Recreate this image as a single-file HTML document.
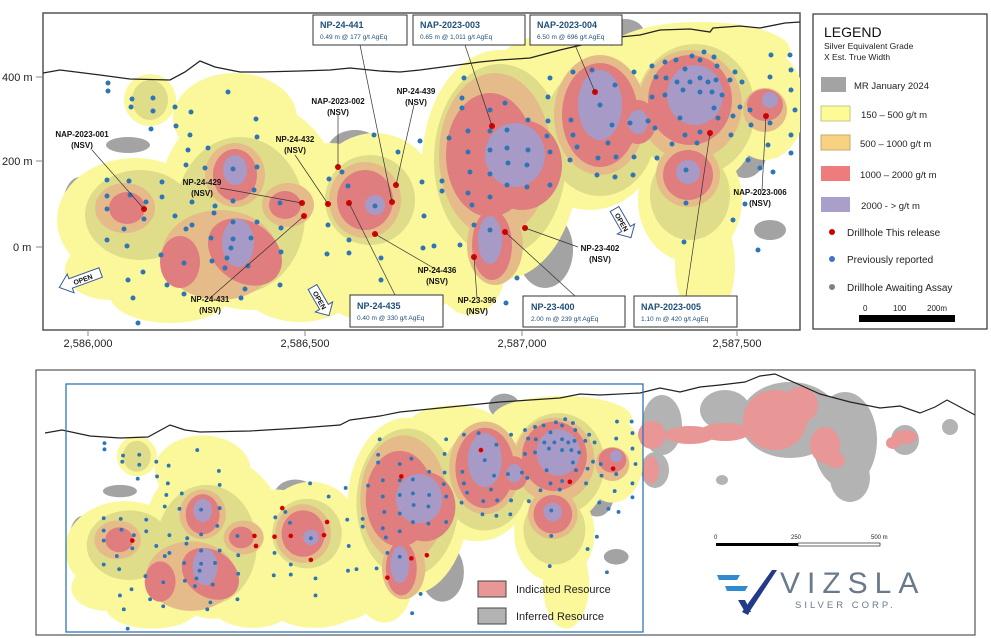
<!DOCTYPE html>
<html><head><meta charset="utf-8"><style>
html,body{margin:0;padding:0;background:#fff;}
svg{display:block;font-family:"Liberation Sans",sans-serif;}
.lb{font-size:8px;font-weight:bold;fill:#111;text-anchor:middle;}
.bt{font-size:9px;fill:#1f4e79;font-weight:bold;}
.bs{font-size:6.5px;fill:#1f4e79;}
.ax{font-size:11px;fill:#222;}
</style></head><body>
<svg width="991" height="638" viewBox="0 0 991 638" xmlns="http://www.w3.org/2000/svg">
<defs>
<g id="blobs">
 <g fill="#a3a3a3">
  <ellipse cx="80" cy="205" rx="17" ry="28"/><ellipse cx="312" cy="215" rx="24" ry="15"/>
  <ellipse cx="355" cy="152" rx="28" ry="22"/><ellipse cx="462" cy="105" rx="22" ry="28"/>
  <ellipse cx="545" cy="250" rx="28" ry="38"/><ellipse cx="625" cy="35" rx="20" ry="16"/>
  <ellipse cx="745" cy="150" rx="22" ry="28"/><ellipse cx="770" cy="230" rx="16" ry="10"/>
  <ellipse cx="430" cy="258" rx="14" ry="13"/><ellipse cx="128" cy="145" rx="22" ry="8"/>
  <ellipse cx="330" cy="240" rx="14" ry="10"/>
 </g>
 <g fill="#fbf89b">
  <ellipse cx="135" cy="220" rx="78" ry="62"/><ellipse cx="250" cy="205" rx="92" ry="105"/>
  <ellipse cx="235" cy="118" rx="62" ry="45"/><ellipse cx="330" cy="225" rx="72" ry="82"/>
  <ellipse cx="375" cy="195" rx="62" ry="62"/><ellipse cx="300" cy="280" rx="62" ry="42"/>
  <ellipse cx="420" cy="250" rx="52" ry="62"/><ellipse cx="500" cy="165" rx="78" ry="115"/>
  <ellipse cx="590" cy="128" rx="72" ry="82"/><ellipse cx="690" cy="108" rx="72" ry="82"/>
  <ellipse cx="690" cy="200" rx="52" ry="62"/><ellipse cx="765" cy="105" rx="40" ry="55"/>
  <ellipse cx="705" cy="265" rx="30" ry="58"/><ellipse cx="150" cy="100" rx="26" ry="26"/>
  <ellipse cx="110" cy="270" rx="45" ry="30"/><ellipse cx="380" cy="290" rx="60" ry="32"/>
  <ellipse cx="170" cy="295" rx="60" ry="28"/><ellipse cx="700" cy="50" rx="90" ry="28"/>
  <ellipse cx="560" cy="62" rx="60" ry="28"/><ellipse cx="470" cy="270" rx="35" ry="45"/>
 </g>
 <g fill="#dfdc8a">
  <ellipse cx="140" cy="215" rx="55" ry="45"/><ellipse cx="240" cy="215" rx="65" ry="78"/>
  <ellipse cx="370" cy="200" rx="45" ry="45"/><ellipse cx="500" cy="160" rx="66" ry="96"/>
  <ellipse cx="600" cy="130" rx="56" ry="66"/><ellipse cx="695" cy="110" rx="60" ry="66"/>
  <ellipse cx="690" cy="195" rx="40" ry="45"/><ellipse cx="150" cy="100" rx="18" ry="20"/>
 </g>
 <g fill="#e6bb8a">
  <ellipse cx="125" cy="208" rx="30" ry="25"/><ellipse cx="235" cy="175" rx="30" ry="32"/>
  <ellipse cx="220" cy="255" rx="58" ry="45"/><ellipse cx="288" cy="205" rx="26" ry="22"/>
  <ellipse cx="365" cy="200" rx="36" ry="38"/><ellipse cx="495" cy="155" rx="56" ry="82"/>
  <ellipse cx="495" cy="245" rx="28" ry="40"/><ellipse cx="600" cy="115" rx="46" ry="60"/>
  <ellipse cx="690" cy="105" rx="52" ry="55"/><ellipse cx="688" cy="175" rx="32" ry="32"/>
  <ellipse cx="765" cy="110" rx="22" ry="22"/>
 </g>
 <g fill="#e07d7f">
  <ellipse cx="127" cy="208" rx="18" ry="16"/><ellipse cx="235" cy="175" rx="22" ry="26"/>
  <ellipse cx="245" cy="252" rx="40" ry="30" transform="rotate(35 245 252)"/><ellipse cx="180" cy="262" rx="20" ry="26"/>
  <ellipse cx="285" cy="205" rx="16" ry="14"/><ellipse cx="365" cy="200" rx="28" ry="30"/>
  <ellipse cx="490" cy="155" rx="44" ry="62"/><ellipse cx="522" cy="165" rx="40" ry="45"/>
  <ellipse cx="492" cy="245" rx="20" ry="35"/><ellipse cx="600" cy="115" rx="38" ry="52"/>
  <ellipse cx="638" cy="122" rx="18" ry="22"/><ellipse cx="690" cy="100" rx="42" ry="45"/>
  <ellipse cx="688" cy="175" rx="25" ry="25"/><ellipse cx="765" cy="105" rx="18" ry="16"/>
 </g>
 <g fill="#a79ac6">
  <ellipse cx="235" cy="170" rx="12" ry="15"/><ellipse cx="238" cy="243" rx="16" ry="24"/>
  <ellipse cx="375" cy="205" rx="10" ry="10"/><ellipse cx="515" cy="155" rx="30" ry="32"/>
  <ellipse cx="600" cy="105" rx="22" ry="35"/><ellipse cx="695" cy="95" rx="28" ry="30"/>
  <ellipse cx="688" cy="172" rx="12" ry="12"/><ellipse cx="770" cy="100" rx="8" ry="8"/>
  <ellipse cx="490" cy="240" rx="12" ry="24"/><ellipse cx="638" cy="122" rx="10" ry="12"/>
 </g>
 <g fill="#2e75b6">
  <circle cx="108" cy="83" r="2.5"/><circle cx="108" cy="91" r="2.5"/><circle cx="132" cy="99" r="2.5"/><circle cx="131" cy="107" r="2.5"/><circle cx="153" cy="98" r="2.5"/><circle cx="153" cy="111" r="2.5"/><circle cx="175" cy="107" r="2.5"/><circle cx="191" cy="112" r="2.5"/><circle cx="151" cy="129" r="2.5"/><circle cx="176" cy="126" r="2.5"/><circle cx="228" cy="92" r="2.5"/><circle cx="190" cy="135" r="2.5"/><circle cx="188" cy="150" r="2.5"/><circle cx="208" cy="148" r="2.5"/><circle cx="186" cy="165" r="2.5"/><circle cx="205" cy="168" r="2.5"/><circle cx="233" cy="169" r="2.5"/><circle cx="256" cy="119" r="2.5"/><circle cx="257" cy="137" r="2.5"/><circle cx="257" cy="167" r="2.5"/><circle cx="254" cy="190" r="2.5"/><circle cx="233" cy="201" r="2.5"/><circle cx="215" cy="206" r="2.5"/><circle cx="192" cy="202" r="2.5"/><circle cx="162" cy="182" r="2.5"/><circle cx="162" cy="197" r="2.5"/><circle cx="129" cy="181" r="2.5"/><circle cx="130" cy="195" r="2.5"/><circle cx="107" cy="180" r="2.5"/><circle cx="107" cy="196" r="2.5"/><circle cx="107" cy="209" r="2.5"/><circle cx="146" cy="202" r="2.5"/><circle cx="144" cy="219" r="2.5"/><circle cx="124" cy="229" r="2.5"/><circle cx="107" cy="240" r="2.5"/><circle cx="127" cy="246" r="2.5"/><circle cx="143" cy="272" r="2.5"/><circle cx="128" cy="280" r="2.5"/><circle cx="167" cy="285" r="2.5"/><circle cx="133" cy="298" r="2.5"/><circle cx="138" cy="323" r="2.5"/><circle cx="186" cy="229" r="2.5"/><circle cx="175" cy="216" r="2.5"/><circle cx="192" cy="225" r="2.5"/><circle cx="214" cy="213" r="2.5"/><circle cx="233" cy="222" r="2.5"/><circle cx="233" cy="239" r="2.5"/><circle cx="231" cy="248" r="2.5"/><circle cx="251" cy="238" r="2.5"/><circle cx="211" cy="238" r="2.5"/><circle cx="212" cy="261" r="2.5"/><circle cx="227" cy="258" r="2.5"/><circle cx="248" cy="266" r="2.5"/><circle cx="225" cy="268" r="2.5"/><circle cx="161" cy="255" r="2.5"/><circle cx="184" cy="263" r="2.5"/><circle cx="184" cy="294" r="2.5"/><circle cx="245" cy="289" r="2.5"/><circle cx="241" cy="298" r="2.5"/><circle cx="280" cy="285" r="2.5"/><circle cx="281" cy="252" r="2.5"/><circle cx="281" cy="228" r="2.5"/><circle cx="257" cy="222" r="2.5"/><circle cx="280" cy="203" r="2.5"/><circle cx="328" cy="225" r="2.5"/><circle cx="342" cy="172" r="2.5"/><circle cx="348" cy="186" r="2.5"/><circle cx="329" cy="179" r="2.5"/><circle cx="349" cy="240" r="2.5"/><circle cx="349" cy="253" r="2.5"/><circle cx="327" cy="254" r="2.5"/><circle cx="381" cy="258" r="2.5"/><circle cx="381" cy="280" r="2.5"/><circle cx="375" cy="206" r="2.5"/><circle cx="374" cy="135" r="2.5"/><circle cx="398" cy="152" r="2.5"/><circle cx="420" cy="141" r="2.5"/><circle cx="422" cy="182" r="2.5"/><circle cx="424" cy="216" r="2.5"/><circle cx="442" cy="181" r="2.5"/><circle cx="442" cy="191" r="2.5"/><circle cx="423" cy="248" r="2.5"/>
  <circle cx="464" cy="78" r="2.5"/><circle cx="462" cy="98" r="2.5"/><circle cx="462" cy="108" r="2.5"/><circle cx="490" cy="110" r="2.5"/><circle cx="505" cy="103" r="2.5"/><circle cx="468" cy="131" r="2.5"/><circle cx="490" cy="131" r="2.5"/><circle cx="507" cy="130" r="2.5"/><circle cx="468" cy="152" r="2.5"/><circle cx="490" cy="150" r="2.5"/><circle cx="507" cy="148" r="2.5"/><circle cx="528" cy="150" r="2.5"/><circle cx="470" cy="172" r="2.5"/><circle cx="490" cy="174" r="2.5"/><circle cx="508" cy="163" r="2.5"/><circle cx="527" cy="165" r="2.5"/><circle cx="550" cy="152" r="2.5"/><circle cx="468" cy="193" r="2.5"/><circle cx="490" cy="197" r="2.5"/><circle cx="507" cy="185" r="2.5"/><circle cx="527" cy="187" r="2.5"/><circle cx="550" cy="185" r="2.5"/><circle cx="472" cy="205" r="2.5"/><circle cx="449" cy="138" r="2.5"/><circle cx="528" cy="120" r="2.5"/><circle cx="548" cy="121" r="2.5"/><circle cx="547" cy="136" r="2.5"/><circle cx="571" cy="120" r="2.5"/><circle cx="573" cy="135" r="2.5"/><circle cx="548" cy="97" r="2.5"/><circle cx="550" cy="78" r="2.5"/><circle cx="573" cy="72" r="2.5"/><circle cx="592" cy="70" r="2.5"/><circle cx="600" cy="105" r="2.5"/><circle cx="615" cy="85" r="2.5"/><circle cx="634" cy="72" r="2.5"/><circle cx="612" cy="125" r="2.5"/><circle cx="630" cy="123" r="2.5"/><circle cx="608" cy="143" r="2.5"/><circle cx="616" cy="157" r="2.5"/><circle cx="634" cy="157" r="2.5"/><circle cx="633" cy="175" r="2.5"/><circle cx="615" cy="177" r="2.5"/><circle cx="598" cy="158" r="2.5"/><circle cx="570" cy="160" r="2.5"/><circle cx="597" cy="175" r="2.5"/><circle cx="577" cy="147" r="2.5"/><circle cx="657" cy="158" r="2.5"/><circle cx="686" cy="170" r="2.5"/><circle cx="672" cy="144" r="2.5"/><circle cx="685" cy="135" r="2.5"/><circle cx="697" cy="143" r="2.5"/><circle cx="648" cy="121" r="2.5"/><circle cx="652" cy="97" r="2.5"/><circle cx="665" cy="95" r="2.5"/><circle cx="656" cy="77" r="2.5"/><circle cx="652" cy="66" r="2.5"/><circle cx="665" cy="62" r="2.5"/><circle cx="676" cy="60" r="2.5"/><circle cx="685" cy="69" r="2.5"/><circle cx="692" cy="56" r="2.5"/><circle cx="700" cy="60" r="2.5"/><circle cx="704" cy="52" r="2.5"/><circle cx="714" cy="57" r="2.5"/><circle cx="717" cy="66" r="2.5"/><circle cx="716" cy="80" r="2.5"/><circle cx="708" cy="82" r="2.5"/><circle cx="700" cy="78" r="2.5"/><circle cx="690" cy="82" r="2.5"/><circle cx="677" cy="82" r="2.5"/><circle cx="666" cy="78" r="2.5"/><circle cx="683" cy="90" r="2.5"/><circle cx="700" cy="92" r="2.5"/><circle cx="712" cy="92" r="2.5"/><circle cx="722" cy="95" r="2.5"/><circle cx="730" cy="80" r="2.5"/><circle cx="735" cy="72" r="2.5"/><circle cx="742" cy="82" r="2.5"/><circle cx="740" cy="107" r="2.5"/><circle cx="733" cy="116" r="2.5"/><circle cx="718" cy="118" r="2.5"/><circle cx="714" cy="108" r="2.5"/><circle cx="731" cy="135" r="2.5"/><circle cx="750" cy="110" r="2.5"/><circle cx="751" cy="125" r="2.5"/><circle cx="748" cy="160" r="2.5"/><circle cx="773" cy="172" r="2.5"/><circle cx="770" cy="123" r="2.5"/><circle cx="770" cy="77" r="2.5"/><circle cx="771" cy="55" r="2.5"/><circle cx="790" cy="55" r="2.5"/><circle cx="791" cy="70" r="2.5"/><circle cx="791" cy="90" r="2.5"/><circle cx="795" cy="110" r="2.5"/><circle cx="791" cy="135" r="2.5"/><circle cx="791" cy="153" r="2.5"/><circle cx="745" cy="204" r="2.5"/><circle cx="733" cy="220" r="2.5"/><circle cx="758" cy="250" r="2.5"/><circle cx="686" cy="203" r="2.5"/><circle cx="684" cy="242" r="2.5"/><circle cx="760" cy="168" r="2.5"/><circle cx="768" cy="145" r="2.5"/><circle cx="700" cy="132" r="2.5"/><circle cx="680" cy="118" r="2.5"/><circle cx="655" cy="128" r="2.5"/><circle cx="506" cy="303" r="2.5"/><circle cx="517" cy="278" r="2.5"/><circle cx="434" cy="246" r="2.5"/><circle cx="474" cy="225" r="2.5"/><circle cx="460" cy="245" r="2.5"/><circle cx="490" cy="230" r="2.5"/>
 </g>
 <g fill="#d40000">
  <circle cx="144" cy="209" r="3"/><circle cx="302" cy="203" r="3"/><circle cx="304" cy="216" r="3"/><circle cx="328" cy="204" r="3"/><circle cx="349" cy="203" r="3"/><circle cx="338" cy="167" r="3"/><circle cx="375" cy="234" r="3"/><circle cx="392" cy="202" r="3"/><circle cx="396" cy="185" r="3"/><circle cx="474" cy="257" r="3"/><circle cx="492" cy="126" r="3"/><circle cx="505" cy="232" r="3"/><circle cx="525" cy="228" r="3"/><circle cx="595" cy="92" r="3"/><circle cx="710" cy="133" r="3"/><circle cx="766" cy="116" r="3"/>
 </g>
</g>
</defs>

<!-- TOP MAP -->
<rect x="43" y="13" width="757" height="317" fill="#fff" stroke="#555" stroke-width="1.5"/>
<svg x="43" y="13" width="757" height="317" viewBox="43 13 757 317" overflow="hidden">
 <use href="#blobs"/>
 <rect x="43" y="13" width="757" height="10" fill="#fff" opacity="0"/>
 <polyline fill="none" stroke="#222" stroke-width="1.3" points="43,73 60,70 100,75 130,79 170,80 185,72 200,61 215,67 240,72 260,72 300,71 330,70 350,68 380,71 400,72 420,70 450,66 480,62 500,60 530,58 560,50 590,43 610,38 640,35 660,30 690,29 710,32 713,28 740,26 760,28 785,23 800,22"/>
</svg>
<g stroke="#888" stroke-width="1"><line x1="36" y1="77" x2="43" y2="77"/><line x1="36" y1="161" x2="43" y2="161"/><line x1="36" y1="247" x2="43" y2="247"/>
<line x1="88" y1="330" x2="88" y2="336"/><line x1="305" y1="330" x2="305" y2="336"/><line x1="522" y1="330" x2="522" y2="336"/><line x1="737" y1="330" x2="737" y2="336"/></g>
<g class="ax"><text x="2" y="81">400 m</text><text x="2" y="165">200 m</text><text x="13" y="251">0 m</text>
<text x="88" y="347" text-anchor="middle">2,586,000</text><text x="305" y="347" text-anchor="middle">2,586,500</text><text x="522" y="347" text-anchor="middle">2,587,000</text><text x="737" y="347" text-anchor="middle">2,587,500</text></g>

<g stroke="#333" stroke-width="0.7" fill="none">
 <line x1="92" y1="150" x2="144" y2="209"/><line x1="220" y1="188" x2="302" y2="203"/><line x1="210" y1="298" x2="304" y2="216"/>
 <line x1="295" y1="155" x2="328" y2="204"/><line x1="338" y1="115" x2="338" y2="167"/><line x1="414" y1="105" x2="396" y2="185"/>
 <line x1="360" y1="45" x2="392" y2="202"/><line x1="465" y1="45" x2="492" y2="126"/><line x1="575" y1="45" x2="595" y2="92"/>
 <line x1="395" y1="295" x2="349" y2="203"/><line x1="437" y1="270" x2="375" y2="234"/><line x1="477" y1="298" x2="474" y2="257"/>
 <line x1="575" y1="296" x2="505" y2="232"/><line x1="578" y1="247" x2="525" y2="228"/><line x1="686" y1="296" x2="710" y2="133"/><line x1="762" y1="190" x2="766" y2="116"/>
</g>
<g class="lb">
 <text x="82" y="137">NAP-2023-001</text><text x="82" y="148">(NSV)</text>
 <text x="338" y="104">NAP-2023-002</text><text x="338" y="115">(NSV)</text>
 <text x="416" y="94">NP-24-439</text><text x="416" y="105">(NSV)</text>
 <text x="295" y="142">NP-24-432</text><text x="295" y="153">(NSV)</text>
 <text x="202" y="185">NP-24-429</text><text x="202" y="196">(NSV)</text>
 <text x="210" y="302">NP-24-431</text><text x="210" y="313">(NSV)</text>
 <text x="437" y="273">NP-24-436</text><text x="437" y="284">(NSV)</text>
 <text x="477" y="303">NP-23-396</text><text x="477" y="314">(NSV)</text>
 <text x="600" y="251">NP-23-402</text><text x="600" y="262">(NSV)</text>
 <text x="760" y="195">NAP-2023-006</text><text x="760" y="206">(NSV)</text>
</g>
<g fill="#fff" stroke="#3b5a9a" stroke-width="1">
 <g transform="translate(80,280) rotate(-20)"><polygon points="-22,0 -10,-10 -10,-5 22,-5 22,5 -10,5 -10,10"/><text x="3" y="3" font-size="7" font-weight="bold" fill="#111" stroke="none" text-anchor="middle">OPEN</text></g>
 <g transform="translate(320,300) rotate(60)"><polygon points="-15,-5 8,-5 8,-10 18,0 8,10 8,5 -15,5"/><text x="0" y="3" font-size="7" font-weight="bold" fill="#111" stroke="none" text-anchor="middle">OPEN</text></g>
 <g transform="translate(622,222) rotate(60)"><polygon points="-15,-5 8,-5 8,-10 18,0 8,10 8,5 -15,5"/><text x="0" y="3" font-size="7" font-weight="bold" fill="#111" stroke="none" text-anchor="middle">OPEN</text></g>
</g>
<g fill="#fff" stroke="#333" stroke-width="1">
 <rect x="313" y="15" width="94" height="30"/><rect x="413" y="15" width="112" height="30"/><rect x="530" y="15" width="92" height="30"/>
 <rect x="350" y="295" width="93" height="32"/><rect x="523" y="296" width="102" height="31"/><rect x="634" y="296" width="103" height="31"/>
</g>
<text class="bt" x="320" y="28">NP-24-441</text><text class="bs" x="320" y="39">0.49 m @ 177 g/t AgEq</text>
<text class="bt" x="420" y="28">NAP-2023-003</text><text class="bs" x="420" y="39">0.65 m @ 1,011 g/t AgEq</text>
<text class="bt" x="537" y="28">NAP-2023-004</text><text class="bs" x="537" y="39">6.50 m @ 696 g/t AgEq</text>
<text class="bt" x="357" y="309">NP-24-435</text><text class="bs" x="357" y="320">0.40 m @ 330 g/t AgEq</text>
<text class="bt" x="531" y="310">NP-23-400</text><text class="bs" x="531" y="321">2.00 m @ 239 g/t AgEq</text>
<text class="bt" x="641" y="310">NAP-2023-005</text><text class="bs" x="641" y="321">1.10 m @ 420 g/t AgEq</text>

<rect x="813" y="14" width="174" height="315" fill="#fff" stroke="#333" stroke-width="1.2"/>
<text x="824" y="37" font-size="14" fill="#111">LEGEND</text>
<text x="824" y="49" font-size="8.5" fill="#222">Silver Equivalent Grade</text>
<text x="824" y="60" font-size="8.5" fill="#222">X Est. True Width</text>
<rect x="821" y="77" width="25" height="15" fill="#a3a3a3"/>
<rect x="821" y="106" width="29" height="15" fill="#fdfb95" stroke="#c9c48a"/>
<rect x="821" y="135" width="29" height="15" fill="#f6d282" stroke="#c9a870"/>
<rect x="821" y="166" width="29" height="15" fill="#ef7c7c"/>
<rect x="821" y="197" width="29" height="15" fill="#a99fc8"/>
<g font-size="9.5" fill="#222"><text x="854" y="89">MR January 2024</text><text x="861" y="118">150 – 500 g/t m</text><text x="860" y="147">500 – 1000 g/t m</text><text x="860" y="178">1000 – 2000 g/t m</text><text x="861" y="209">2000 - &gt; g/t m</text>
<text x="847" y="236" font-size="10">Drillhole This release</text><text x="847" y="263" font-size="10">Previously reported</text><text x="847" y="291" font-size="10">Drillhole Awaiting Assay</text></g>
<circle cx="832" cy="232" r="3" fill="#c00"/><circle cx="832" cy="259" r="3" fill="#4472c4"/><circle cx="832" cy="287" r="3" fill="#808080"/>
<rect x="859" y="315" width="96" height="7" fill="#000"/>
<g font-size="8" fill="#222"><text x="863" y="311">0</text><text x="893" y="311">100</text><text x="927" y="311">200m</text></g>

<!-- BOTTOM MAP -->
<rect x="36" y="370" width="939" height="265" fill="#fff" stroke="#555" stroke-width="1.2"/>
<g fill="#b3b3b3">
 <ellipse cx="662" cy="425" rx="20" ry="30"/><ellipse cx="725" cy="410" rx="25" ry="20"/><ellipse cx="790" cy="420" rx="50" ry="38"/>
 <ellipse cx="845" cy="440" rx="32" ry="48"/><ellipse cx="850" cy="478" rx="20" ry="24"/><ellipse cx="905" cy="440" rx="14" ry="15"/>
 <ellipse cx="950" cy="427" rx="8" ry="8"/><ellipse cx="722" cy="480" rx="6" ry="5"/><ellipse cx="655" cy="470" rx="14" ry="18"/>
</g>
<g fill="#e89696">
 <ellipse cx="652" cy="435" rx="14" ry="14"/><ellipse cx="690" cy="435" rx="25" ry="9"/><ellipse cx="725" cy="432" rx="25" ry="9"/>
 <ellipse cx="775" cy="420" rx="32" ry="30"/><ellipse cx="800" cy="405" rx="18" ry="18"/><ellipse cx="825" cy="445" rx="15" ry="18"/>
 <ellipse cx="835" cy="460" rx="10" ry="8"/><ellipse cx="905" cy="437" rx="12" ry="7"/><ellipse cx="893" cy="443" rx="7" ry="6"/><ellipse cx="651" cy="470" rx="8" ry="14"/>
</g>
<g transform="translate(21,379) scale(0.773)"><use href="#blobs"/></g>
<polyline fill="none" stroke="#222" stroke-width="1.2" points="45,433 62,430 90,436 120,438 148,437 170,425 185,430 200,432 250,431 300,428 340,425 350,420 380,416 400,412 420,410 450,407 500,402 530,400 560,398 580,394 600,395 640,393 660,388 680,392 700,387 720,385 745,382 760,376 775,374 800,385 820,394 850,402 880,408 900,406 920,413 935,407 947,400 975,415"/>
<rect x="66" y="384" width="577" height="248" fill="none" stroke="#2e75b6" stroke-width="1.3"/>
<rect x="478" y="581" width="28" height="16" fill="#e89696" stroke="#444"/>
<rect x="478" y="608" width="28" height="16" fill="#b3b3b3" stroke="#444"/>
<text x="516" y="593" font-size="11" fill="#222">Indicated Resource</text>
<text x="516" y="620" font-size="11" fill="#222">Inferred Resource</text>
<rect x="716" y="543" width="82" height="3" fill="#000"/><rect x="798" y="543" width="82" height="3" fill="#fff" stroke="#000" stroke-width="0.6"/>
<g font-size="6" fill="#222"><text x="714" y="539">0</text><text x="791" y="539">250</text><text x="871" y="539">500 m</text></g>
<polygon points="717,575 740,575 737,580 719,580" fill="#2f8ad0"/>
<polygon points="725,586 748,586 745,591 727,591" fill="#2f8ad0"/>
<polygon points="742,612 772,570 777,570 750,611 748,615" fill="#233a8a"/>
<polygon points="738,600 745,600 751,612 745,612" fill="#233a8a"/>
<text x="780" y="593" font-size="30" fill="#6a7a8a" letter-spacing="7">VIZSLA</text>
<text x="795" y="608" font-size="9.5" fill="#6a7a8a" letter-spacing="3">SILVER CORP.</text>
</svg>
</body></html>
